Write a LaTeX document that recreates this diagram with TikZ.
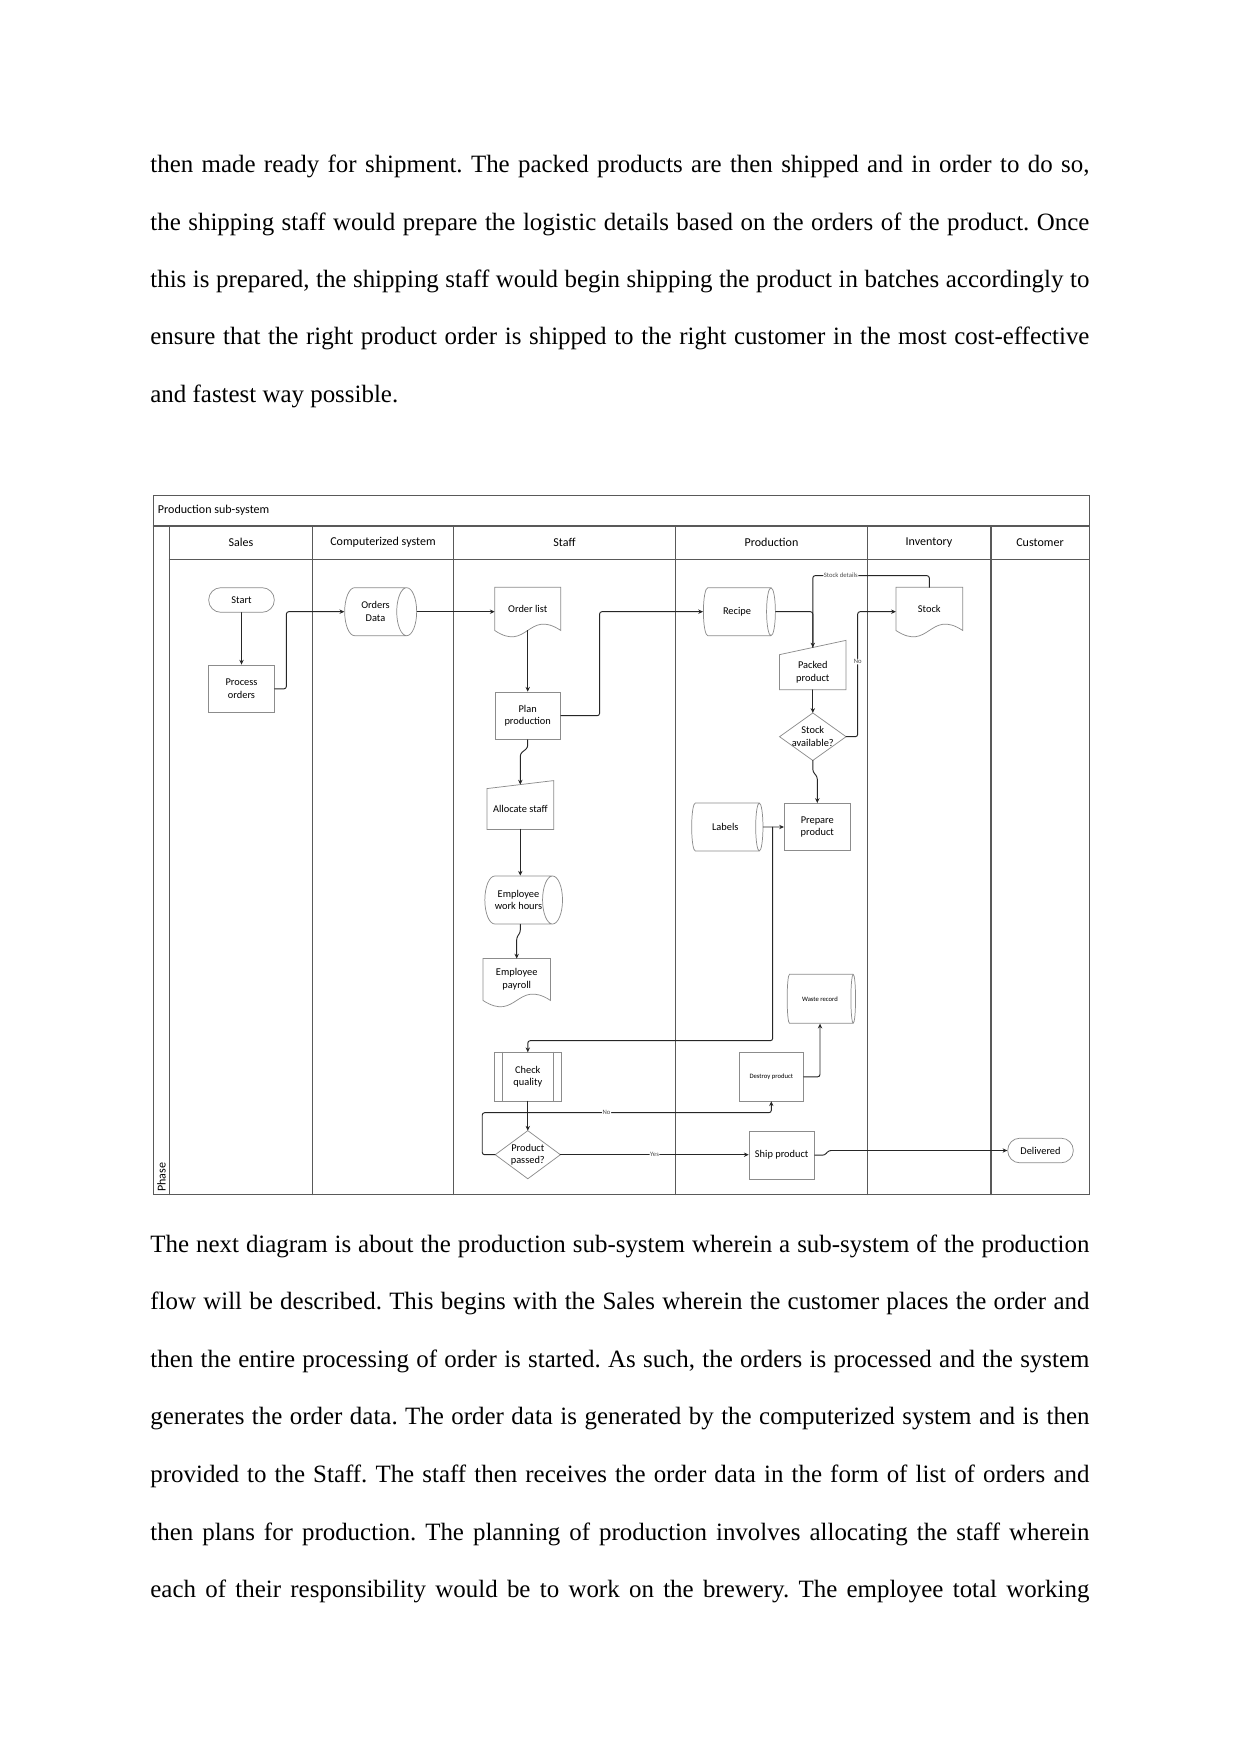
\documentclass[tikz,border=0pt]{standalone}
\usepackage{fontspec}
\setmainfont{Liberation Serif}
\newfontfamily\diafont{Carlito}
\usepackage{tikz}
\usetikzlibrary{calc,shapes.geometric,arrows.meta}
\frenchspacing

\newdimen\pxu \pxu=0.16922mm

% outlines drawn round plain nodes
\newcommand\docshape[1]{\draw[shp] (#1.south west) -- (#1.north west) -- (#1.north east) -- (#1.south east)
  .. controls ($(#1.south)+(0,-22)$) and ($(#1.south)+(0,22)$) .. (#1.south west) ;}
\newcommand\maninput[2]{\draw[shp] (#1.south west) -- (#1.north west) -- ($(#1.north east)+(0,-#2)$) -- (#1.south east) -- cycle ;}
\newcommand\predef[1]{\draw[shp] (#1.north west) rectangle (#1.south east) ;
  \draw[shp] ($(#1.north west)+(7.7,0)$) -- ($(#1.south west)+(7.7,0)$) ;
  \draw[shp] ($(#1.north east)+(-7.7,0)$) -- ($(#1.south east)+(-7.7,0)$) ;}
\newcommand\decision[1]{\draw[shp] (#1.north) -- (#1.east) -- (#1.south) -- (#1.west) -- cycle ;}

\begin{document}
\begin{tikzpicture}[x=0.16922mm, y=-0.16922mm, line cap=round, >={Stealth[length=2.3pt,width=2.1pt]},
  txt/.style={anchor=base west, inner sep=0, font=\fontsize{12}{14}\selectfont},
  lane/.style={draw=black!65, line width=0.5pt},
  hdr/.style={inner sep=0, font=\diafont\fontsize{5.8}{6.5}\selectfont},
  shp/.style={draw=black!45, line width=0.35pt},
  box/.style={inner sep=0, align=center, minimum width=65.6*\pxu, minimum height=47.7*\pxu,
    font=\diafont\fontsize{5}{6.1}\selectfont},
  proc/.style={box, shp},
  term/.style={box, shp, minimum height=24.6*\pxu, rounded corners=2.05mm},
  store/.style={box, shp, shape=cylinder, shape aspect=1, minimum height=72*\pxu, minimum width=48*\pxu},
  tiny/.style={font=\diafont\fontsize{3.2}{3.6}\selectfont},
  lbl/.style={tiny, fill=white, inner sep=0.3pt, text=black!70},
  conn/.style={draw=black!85, line width=0.45pt, rounded corners=0.4mm}]

\useasboundingbox (0,0) rectangle (1241,1754) ;
\fill[white] (0,0) rectangle (1241,1754) ;

% text above
\node[txt] (pa1) at (150,173) {\makebox[939\pxu][s]{then made ready for shipment. The packed products are then shipped and in order to do so,}} ;
\node[txt] (pa2) at (150,230.3) {\makebox[939\pxu][s]{the shipping staff would prepare the logistic details based on the orders of the product. Once}} ;
\node[txt] (pa3) at (150,287.6) {\makebox[939\pxu][s]{this is prepared, the shipping staff would begin shipping the product in batches accordingly to}} ;
\node[txt] (pa4) at (150,344.9) {\makebox[939\pxu][s]{ensure that the right product order is shipped to the right customer in the most cost-effective}} ;
\node[txt] (pa5) at (150,402.2) {and fastest way possible.} ;

% swimlanes
\draw[lane] (153.3,495.7) rectangle (1089.3,1194.7) ;
\draw[lane] (153.3,526) -- (1089.3,526) ;
\draw[lane] (169.3,559.3) -- (1089.3,559.3) ;
\draw[lane] (169.3,526) -- (169.3,1194.7) ;
\foreach \x in {312.7,453.3,675.7,867.3,991}
  \draw[lane] (\x,526) -- (\x,1194.7) ;
\node[hdr, anchor=west] (title) at (157.5,510.7) {Production sub-system} ;
\foreach \x/\t/\n in {241/Sales/hsales, 383/Computerized system/hcomp, 564.5/Staff/hstaff,
  771.5/Production/hprod, 929/Inventory/hinv, 1040/Customer/hcust}
  \node[hdr] (\n) at (\x,542.7) {\t} ;
\node[hdr, rotate=90, anchor=west] (phase) at (161.5,1192) {Phase} ;

% shapes
\node[term] (start) at (241.5,600) {Start} ;
\node[proc] (procord) at (241.5,688.8) {Process\\orders} ;
\node[store] (ordata) at (375.5,611.7) {Orders\\Data} ;
\node[box, minimum width=65.3*\pxu, minimum height=42.3*\pxu] (ordlist) at (527.7,608.9) {Order list} ;
\node[proc, minimum height=47.3*\pxu] (planprod) at (527.7,715.7) {Plan\\production} ;
\node[box, minimum width=66*\pxu, minimum height=40*\pxu] (alloc) at (520.3,809) {Allocate staff} ;
\node[store, minimum height=68*\pxu] (emphours) at (518.5,900) {Employee\\work hours} ;
\node[box, minimum width=66.7*\pxu, minimum height=41*\pxu] (payroll) at (516.7,979.5) {Employee\\payroll} ;
\node[box, minimum height=48.3*\pxu] (checkq) at (527.8,1076.8) {Check\\quality} ;
\node[box, minimum width=64.3*\pxu, minimum height=47.3*\pxu] (passed) at (527.8,1154.7) {Product\\passed?} ;
\node[store] (recipe) at (737,611.7) {Recipe} ;
\node[box, minimum width=65.7*\pxu, minimum height=34.3*\pxu] (packed) at (812.8,672.2) {Packed\\product} ;
\node[box, minimum width=65.7*\pxu, minimum height=46.7*\pxu] (stockav) at (812.8,736.7) {Stock\\available?} ;
\node[store, minimum height=71.3*\pxu] (labels) at (725.3,827) {Labels} ;
\node[proc, minimum width=66*\pxu, minimum height=47.3*\pxu] (prepare) at (817.3,827) {Prepare\\product} ;
\node[store, tiny, minimum height=68.4*\pxu, minimum width=49*\pxu] (waste) at (820,998.8) {Waste record} ;
\node[proc, tiny, minimum width=64*\pxu, minimum height=48.3*\pxu] (destroy) at (771.3,1076.8) {Destroy product} ;
\node[proc, minimum width=65.3*\pxu, minimum height=48.3*\pxu] (ship) at (781.7,1155.2) {Ship product} ;
\node[box, minimum width=66*\pxu, minimum height=42.3*\pxu] (stock) at (929.3,608.9) {Stock} ;
\node[term] (delivered) at (1040.5,1150.5) {Delivered} ;

\docshape{ordlist}
\docshape{payroll}
\docshape{stock}
\maninput{alloc}{8}
\maninput{packed}{14.3}
\predef{checkq}
\decision{passed}
\decision{stockav}

% connectors
\coordinate (packtop) at ($(packed.north)+(0,-7.15)$) ;
\coordinate (alloctop) at ($(alloc.north)+(0,-4)$) ;
\coordinate (jq) at (772.7,827) ;

\draw[conn,->] (start) -- (procord) ;
\draw[conn,->] (procord.east) -- ++(11.7,0) |- (ordata.west) ;
\draw[conn,->] (ordata.east) -- (ordata.east -| ordlist.west) ;
\draw[conn,->] (ordlist.south) -- (planprod.north) ;
\draw[conn,->] (planprod.east) -- ++(38.7,0) |- (recipe.west) ;
\draw[conn,->] (recipe.east) -| (packtop) ;
\draw[conn] (stock.north) -- ++(0,-11.7) -| node[lbl,pos=0.38]{Stock details} (packtop) ;
\draw[conn,->] (packed) -- (stockav) ;
\draw[conn,->] (stockav.east) -- ++(11.6,0) |- node[lbl,pos=0.3]{No} (stock.west |- recipe.east) ;
\draw[conn,->] (stockav.south) -- ++(0,11) -- ($(prepare.north)+(0,-26)$) -- (prepare.north) ;
\draw[conn,->] (labels.east) -- (prepare.west) ;
\draw[conn,->] (jq) -- ++(0,213.7) -| (checkq.north) ;
\draw[conn,->] (checkq) -- (passed) ;
\draw[conn,->] (passed.west) -- ++(-13,0) -- ++(0,-42) -| node[lbl,pos=0.215]{No} (destroy.south) ;
\draw[conn,->] (destroy.east) -| (waste.south) ;
\draw[conn,->] (passed.east) -- node[lbl]{Yes} (passed.east -| ship.west) ;
\draw[conn,->] (ship.east) -- ++(10,0) -- ($(ship.east)+(14,-4.7)$) -- (delivered.west) ;
\draw[conn,->] (planprod.south) -- ++(0,8) -- ++(-7.4,6) -- (alloctop) ;
\draw[conn,->] (alloc.south) -- (alloc.south |- emphours.north) ;
\draw[conn,->] (alloc.south |- emphours.south) -- ++(0,8) -- ++(-3.6,5) -- (payroll.north) ;

% text below
\node[txt] (pb1) at (150,1252) {\makebox[939\pxu][s]{The next diagram is about the production sub-system wherein a sub-system of the production}} ;
\node[txt] (pb2) at (150,1309.6) {\makebox[939\pxu][s]{flow will be described. This begins with the Sales wherein the customer places the order and}} ;
\node[txt] (pb3) at (150,1367.2) {\makebox[939\pxu][s]{then the entire processing of order is started. As such, the orders is processed and the system}} ;
\node[txt] (pb4) at (150,1424.8) {\makebox[939\pxu][s]{generates the order data. The order data is generated by the computerized system and is then}} ;
\node[txt] (pb5) at (150,1482.4) {\makebox[939\pxu][s]{provided to the Staff. The staff then receives the order data in the form of list of orders and}} ;
\node[txt] (pb6) at (150,1540) {\makebox[939\pxu][s]{then plans for production. The planning of production involves allocating the staff wherein}} ;
\node[txt] (pb7) at (150,1597.6) {\makebox[939\pxu][s]{each of their responsibility would be to work on the brewery. The employee total working}} ;

\end{tikzpicture}
\end{document}
